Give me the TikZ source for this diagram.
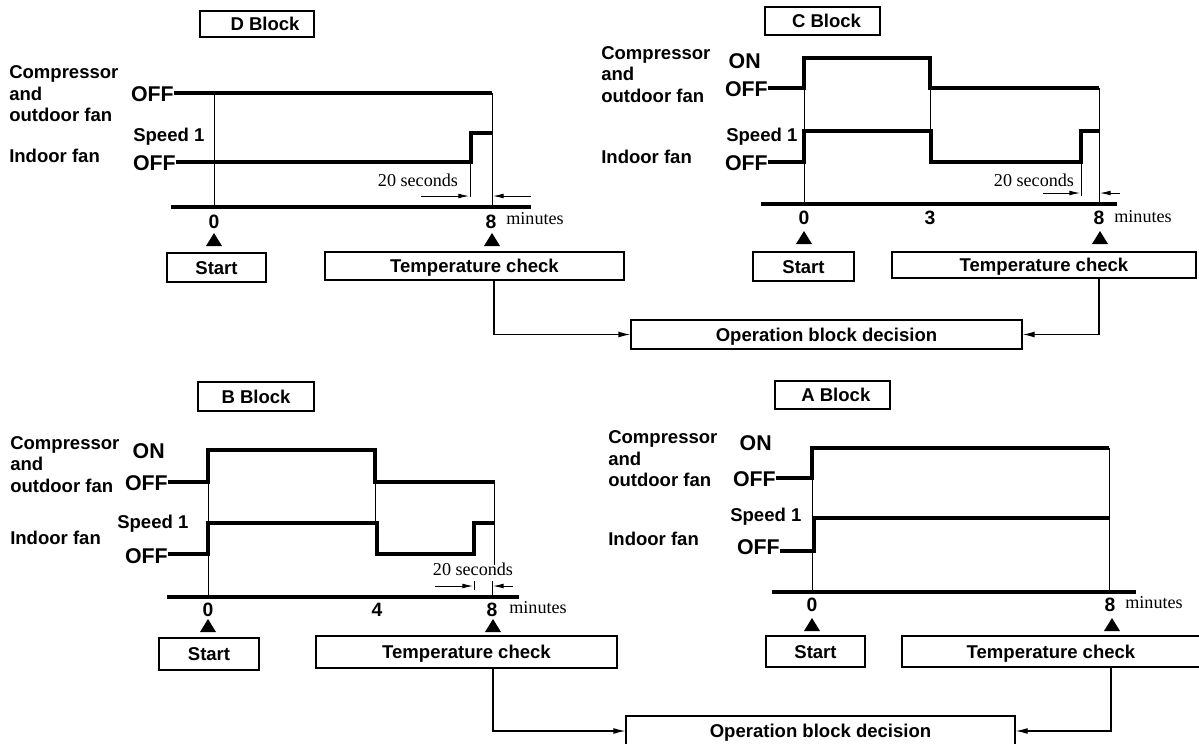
\documentclass[tikz,border=0pt]{standalone}
\usepackage{fontspec}
\setmainfont{Liberation Sans}
\newfontfamily\serifnote{Liberation Serif}
\usetikzlibrary{arrows.meta}

\tikzset{
  lbl/.style={font=\bfseries\fontsize{13.9}{16.1}\selectfont, align=left, inner sep=0pt},
  lvl/.style={font=\bfseries\fontsize{16}{17}\selectfont, inner sep=0pt},
  num/.style={font=\bfseries\fontsize{14.5}{16}\selectfont, inner sep=0pt},
  note/.style={font=\serifnote\fontsize{13.6}{15}\selectfont, inner sep=0pt},
  sig/.style={line width=2.3pt},
  guide/.style={line width=0.65pt},
  blockbox/.style 2 args={draw, line width=0.9pt, inner sep=0pt,
    font=\bfseries\fontsize{13.9}{16}\selectfont, text height=10pt, text depth=0pt,
    minimum width=#1*0.75pt, minimum height=#2*0.75pt},
  dimarrow/.style={-{Latex[length=8pt,width=3.6pt]}, line width=0.65pt},
  link/.style={-{Latex[length=9pt,width=4.4pt]}, line width=0.9pt}
}
\newcommand{\upmark}[2]{\fill (#1,#2) -- ++(-8,13) -- ++(16,0) -- cycle;}

\begin{document}
\begin{tikzpicture}[x=0.75pt,y=0.75pt,yscale=-1,xscale=1]
\useasboundingbox (0,0) rectangle (1199,743);

% D block
\draw (257,24) node (dtitle) [blockbox={114}{26}] {\hspace{12pt}D Block};
\draw (9,94) node (dcomp) [lbl, anchor=west] {Compressor\\and\\outdoor fan};
\draw (9,156) node (dfan) [lbl, anchor=west] {Indoor fan};
\draw (174,94) node (doffc) [lvl, anchor=east] {OFF};
\draw (133,137) node (dspeed) [lbl, anchor=west] {Speed 1};
\draw (176,163) node (dofff) [lvl, anchor=east] {OFF};
\coordinate (d8) at (494,207);
\draw [sig] (doffc.east |- 0,93) -- (492,93);
\draw [sig] (dofff.east |- 0,162) -- (471,162) -- (471,133) -- (492,133);
\draw [guide] (214,93) -- (214,207);
\draw [guide] (492,93) -- (492,207);
\draw [guide] (470,133) -- (470,197);
\draw [sig] (171,207) -- (531,207);
\draw (418,180) node (dsec) [note] {20 seconds};
\draw [dimarrow] (421,196) -- (469,196);
\draw [dimarrow] (531,196) -- (493,196);
\draw (214,222) node (d0) [num] {0};
\draw (491,222) node (dn8) [num] {8};
\draw (535,219) node (dmin) [note] {minutes};
\upmark{214}{233}
\upmark{492}{233}
\draw (216.5,267.5) node (dstart) [blockbox={99}{29}] {Start};
\draw (474.5,266) node (dcheck) [blockbox={299}{28}] {Temperature check};

% C block
\draw (822.5,21) node (ctitle) [blockbox={115}{28}] {\hspace{6pt}C Block};
\draw (601,74.5) node (ccomp) [lbl, anchor=west] {Compressor\\and\\outdoor fan};
\draw (601,157) node (cfan) [lbl, anchor=west] {Indoor fan};
\draw (761,61) node (conc) [lvl, anchor=east] {ON};
\draw (768,89) node (coffc) [lvl, anchor=east] {OFF};
\draw (726,137) node (cspeed) [lbl, anchor=west] {Speed 1};
\draw (768,163) node (cofff) [lvl, anchor=east] {OFF};
\coordinate (c8) at (1099,204);
\draw [sig] (coffc.east |- 0,88) -- (804,88) -- (804,58) -- (930,58) -- (930,88) -- (1099,88);
\draw [sig] (cofff.east |- 0,162) -- (804,162) -- (804,131) -- (931,131) -- (931,162)
  -- (1081,162) -- (1081,131) -- (1099,131);
\draw [guide] (804,58) -- (804,204);
\draw [guide] (930,88) -- (930,131);
\draw [guide] (1099,88) -- (1099,204);
\draw [guide] (1081,131) -- (1081,196);
\draw [sig] (761,204) -- (1117,204);
\draw (1034,180) node (csec) [note] {20 seconds};
\draw [dimarrow] (1043,193) -- (1080,193);
\draw [dimarrow] (1120,193) -- (1100,193);
\draw (804,218) node (c0) [num] {0};
\draw (930,218) node (c3) [num] {3};
\draw (1099,218) node (cn8) [num] {8};
\draw (1143,217) node (cmin) [note] {minutes};
\upmark{804}{231}
\upmark{1100}{231}
\draw (803.5,266.5) node (cstart) [blockbox={101}{29}] {Start};
\draw (1044,265) node (ccheck) [blockbox={304}{26}] {Temperature check};

% upper decision
\draw (826.5,334.5) node (topdec) [blockbox={391}{29}] {Operation block decision};
\draw [link] (dcheck.south -| d8) |- (topdec.west);
\draw [link] (ccheck.south -| c8) |- (topdec.east);

% B block
\draw (256,396.5) node (btitle) [blockbox={116}{29}] {B Block};
\draw (10,464.5) node (bcomp) [lbl, anchor=west] {Compressor\\and\\outdoor fan};
\draw (10,538) node (bfan) [lbl, anchor=west] {Indoor fan};
\draw (165,451) node (bonc) [lvl, anchor=east] {ON};
\draw (168,483) node (boffc) [lvl, anchor=east] {OFF};
\draw (117,524) node (bspeed) [lbl, anchor=west] {Speed 1};
\draw (168,556) node (bofff) [lvl, anchor=east] {OFF};
\coordinate (b8) at (493,597);
\draw [sig] (boffc.east |- 0,482) -- (208,482) -- (208,450) -- (375,450) -- (375,482) -- (495,482);
\draw [sig] (bofff.east |- 0,554) -- (208,554) -- (208,523) -- (377,523) -- (377,554)
  -- (474,554) -- (474,523) -- (494,523);
\draw [guide] (208,450) -- (208,597);
\draw [guide] (375,482) -- (375,554);
\draw [guide] (494,482) -- (494,565);
\draw [guide] (474,581) -- (474,590);
\draw [guide] (492,581) -- (492,597);
\draw [sig] (167,597) -- (519,597);
\draw (473,569) node (bsec) [note] {20 seconds};
\draw [dimarrow] (435,586) -- (473,586);
\draw [dimarrow] (513,586) -- (493,586);
\draw (208,610) node (b0) [num] {0};
\draw (377,610) node (b4) [num] {4};
\draw (492,610) node (bn8) [num] {8};
\draw (538,608) node (bmin) [note] {minutes};
\upmark{208}{619}
\upmark{493}{619}
\draw (209,654) node (bstart) [blockbox={100}{32}] {Start};
\draw (466.5,652) node (bcheck) [blockbox={301}{32}] {Temperature check};

% A block
\draw (832.5,395) node (atitle) [blockbox={115}{28}] {\hspace{5pt}A Block};
\draw (608,459) node (acomp) [lbl, anchor=west] {Compressor\\and\\outdoor fan};
\draw (608,539) node (afan) [lbl, anchor=west] {Indoor fan};
\draw (772,443) node (aonc) [lvl, anchor=east] {ON};
\draw (776,479) node (aoffc) [lvl, anchor=east] {OFF};
\draw (730,517) node (aspeed) [lbl, anchor=west] {Speed 1};
\draw (780,547) node (aofff) [lvl, anchor=east] {OFF};
\coordinate (a8) at (1111,592);
\draw [sig] (aoffc.east |- 0,478) -- (812,478) -- (812,448) -- (1109,448);
\draw [sig] (aofff.east |- 0,551) -- (814,551) -- (814,518) -- (1109,518);
\draw [guide] (812,448) -- (812,592);
\draw [guide] (1109,448) -- (1109,592);
\draw [sig] (772,592) -- (1136,592);
\draw (812,605) node (a0) [num] {0};
\draw (1110,605) node (an8) [num] {8};
\draw (1154,603) node (amin) [note] {minutes};
\upmark{812}{618}
\upmark{1112}{618}
\draw (815.5,651.5) node (astart) [blockbox={99}{31}] {Start};
\draw (1051,651.5) node (acheck) [blockbox={298}{31}] {Temperature check};

% lower decision
\draw (820.5,731) node (botdec) [blockbox={389}{30}] {Operation block decision};
\draw [link] (bcheck.south -| b8) |- (botdec.west);
\draw [link] (acheck.south -| a8) |- (botdec.east);

\end{tikzpicture}
\end{document}
